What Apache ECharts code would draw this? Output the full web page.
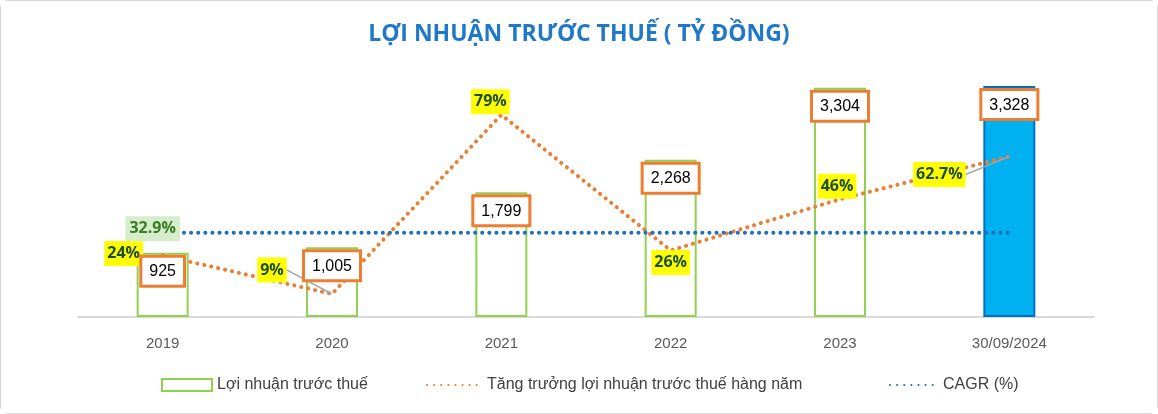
<!DOCTYPE html>
<html>
<head>
<meta charset="utf-8">
<title>Lợi nhuận trước thuế</title>
<style>
    html, body { margin: 0; padding: 0; background: #fff; }
    #main { width: 1158px; height: 414px; box-sizing: border-box; border: 1px solid #d4d4d4; border-radius: 8px; }
</style>
</head>
<body>
<div id="main"></div>
<script src="https://cdn.jsdelivr.net/npm/echarts@6/dist/echarts.min.js"></script>
<script>
// du lieu
var categories = ['2019', '2020', '2021', '2022', '2023', '30/09/2024'];
var profit = [925, 1005, 1799, 2268, 3304, 3328];
var growth = [24, 9, 79, 26, 46, 62.7];
var cagr = [32.9, 32.9, 32.9, 32.9, 32.9, 32.9];

// do lech nhan (dx, dy) so voi diem
var growthShift = [[-39, -2], [-60, -24], [-11, -13], [0, 12], [-3, -13], [-70, 18]];

var chart = echarts.init(document.getElementById('main'));

var barData = profit.map(function (v, i) {
    if (i == profit.length - 1) {
        return { value: v, itemStyle: { color: '#00B0F0', borderColor: '#0070C0', borderWidth: 2 } };
    }
    return v;
});

var growthData = growth.map(function (v, i) {
    var moved = (i == 1 || i == 5);
    return { value: v, labelLine: { show: moved } };
});

// chi hien nhan CAGR o diem dau
var cagrData = cagr.map(function (v, i) {
    return { value: v, label: { show: i == 0 } };
});

var dotLine = function (color) {
    return { color: color, width: 4, type: [0.1, 7], cap: 'round' };
};

var legendText = { fontFamily: 'Liberation Sans', fontSize: 16, color: '#404040' };

var option = {
    backgroundColor: '#fff',
    animation: false,
    title: {
        text: 'LỢI NHUẬN TRƯỚC THUẾ ( TỶ ĐỒNG)',
        left: 'center',
        top: 17,
        textStyle: { fontFamily: 'Open Sans', fontWeight: 'bold', fontSize: 23, color: '#1F78C8' }
    },
    legend: [
        {
            left: 155, top: 371, itemWidth: 50, itemHeight: 12, itemGap: 7, icon: 'rect',
            data: ['Lợi nhuận trước thuế'],
            textStyle: legendText
        },
        {
            left: 420, top: 371, itemWidth: 55, itemHeight: 12,
            data: ['Tăng trưởng lợi nhuận trước thuế hàng năm'],
            textStyle: legendText
        },
        {
            left: 883, top: 371, itemWidth: 48, itemHeight: 12,
            data: ['CAGR (%)'],
            textStyle: legendText
        }
    ],
    grid: { left: 77, right: 63, top: 60, bottom: 96 },
    xAxis: {
        type: 'category',
        data: categories,
        axisLine: { lineStyle: { color: '#D9D9D9', width: 2 } },
        axisTick: { show: false },
        axisLabel: { color: '#595959', fontSize: 15, margin: 19, fontFamily: 'Liberation Sans' }
    },
    yAxis: [
        { type: 'value', min: 0, max: 3690, show: false },
        { type: 'value', min: 0, max: 100, show: false }
    ],
    series: [
        {
            name: 'Lợi nhuận trước thuế',
            type: 'bar',
            barWidth: 52,
            z: 1,
            data: barData,
            itemStyle: { color: 'rgba(255,255,255,0)', borderColor: '#92D050', borderWidth: 2 }
        },
        {
            // chi de ve nhan so lieu len tren cac duong
            name: 'nhan',
            type: 'bar',
            barWidth: 52,
            barGap: '-100%',
            z: 5,
            silent: true,
            data: profit,
            itemStyle: { color: 'rgba(0,0,0,0)' },
            label: {
                show: true,
                position: 'insideTop',
                distance: 5,
                color: '#000',
                fontSize: 16,
                fontFamily: 'Liberation Sans',
                backgroundColor: '#fff',
                borderColor: '#ED7D31',
                borderWidth: 3,
                padding: [6, 7, 5, 7],
                formatter: function (p) {
                    return p.value.toLocaleString('en-US');
                }
            }
        },
        {
            name: 'Tăng trưởng lợi nhuận trước thuế hàng năm',
            type: 'line',
            yAxisIndex: 1,
            z: 3,
            data: growthData,
            symbol: 'circle',
            symbolSize: 1,
            itemStyle: { color: 'rgba(237,125,49,0)' },
            lineStyle: dotLine('#ED7D31'),
            label: {
                show: true,
                position: 'inside',
                color: '#1E4D2B',
                fontWeight: 'bold',
                fontSize: 16,
                fontFamily: 'Open Sans',
                backgroundColor: '#FFFF00',
                padding: [5, 3, 4, 3],
                formatter: function (p) { return p.value + '%'; }
            },
            labelLine: { show: false, lineStyle: { color: '#A6A6A6', width: 1.5 } },
            labelLayout: function (p) {
                var s = growthShift[p.dataIndex];
                return { dx: s[0], dy: s[1] };
            }
        },
        {
            name: 'CAGR (%)',
            type: 'line',
            yAxisIndex: 1,
            z: 3,
            data: cagrData,
            symbol: 'circle',
            symbolSize: 1,
            itemStyle: { color: 'rgba(31,111,192,0)' },
            lineStyle: dotLine('#1F6FC0'),
            label: {
                show: false,
                position: 'inside',
                color: '#3B7D23',
                fontWeight: 'bold',
                fontSize: 16,
                fontFamily: 'Open Sans',
                backgroundColor: '#D5EDCB',
                padding: [5, 4, 4, 4],
                formatter: function (p) { return p.value + '%'; }
            },
            labelLayout: function (p) {
                return { dx: -10, dy: -4 };
            }
        }
    ]
};

chart.setOption(option);
</script>
</body>
</html>
